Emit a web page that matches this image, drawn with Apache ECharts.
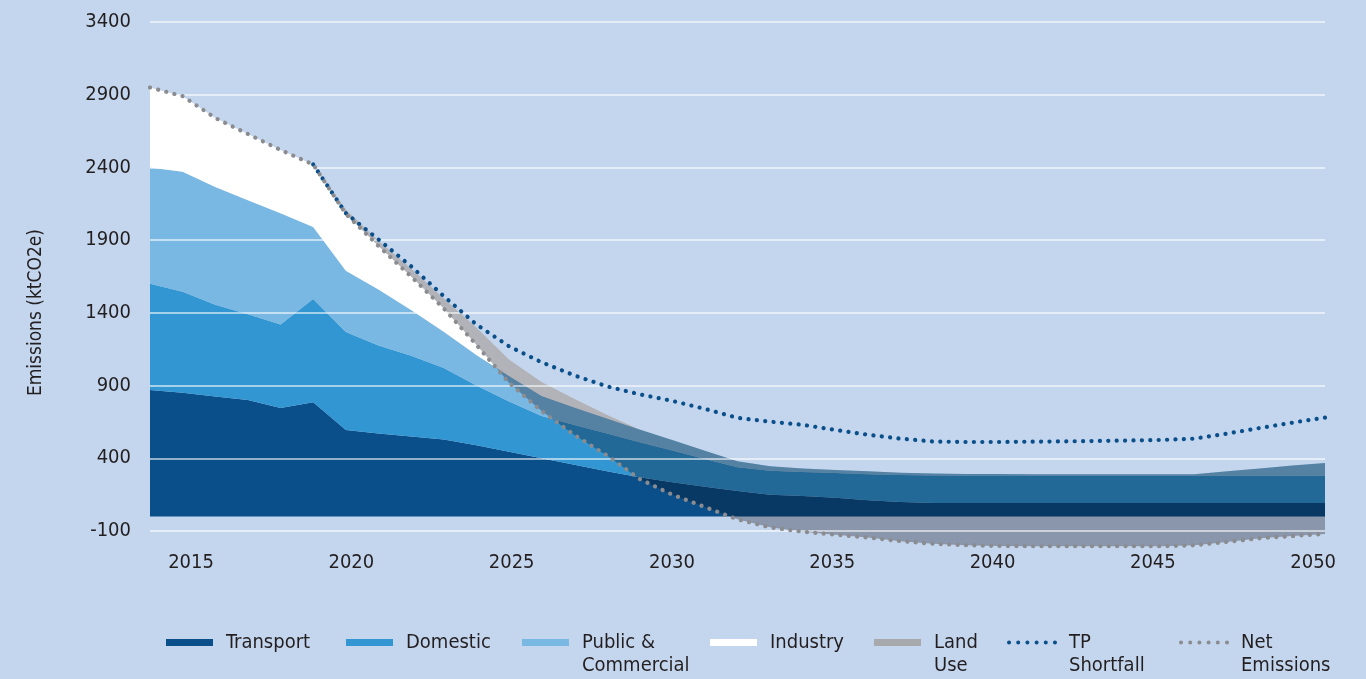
<!DOCTYPE html>
<html>
<head>
<meta charset="utf-8">
<title>Emissions</title>
<script src="https://cdn.jsdelivr.net/npm/echarts@6/dist/echarts.min.js"></script>
<style>
  html, body { margin: 0; padding: 0; background: #c4d6ee; }
  #chart { width: 1366px; height: 679px; }
</style>
</head>
<body>
<div id="chart"></div>
<script>
// 数据（ktCO2e）
const years = [2014, 2015, 2016, 2017, 2018, 2019, 2020, 2021, 2022, 2023, 2024, 2025, 2026, 2027, 2028, 2029, 2030, 2031, 2032, 2033, 2034, 2035, 2036, 2037, 2038, 2039, 2040, 2041, 2042, 2043, 2044, 2045, 2046, 2047, 2048, 2049, 2050]
const transport = [870, 850, 825, 800, 745, 785, 595, 570, 550, 530, 490, 445, 400, 355, 310, 270, 235, 205, 175, 150, 140, 128, 112, 100, 92, 92, 92, 92, 92, 92, 92, 92, 92, 92, 92, 92, 92]
const domestic = [730, 695, 630, 590, 575, 710, 673, 605, 555, 490, 410, 345, 290, 274, 260, 241, 219, 190, 163, 165, 165, 170, 178, 185, 190, 188, 188, 188, 188, 188, 188, 188, 188, 188, 188, 188, 188]
const publicCommercial = [800, 825, 810, 785, 765, 495, 422, 385, 315, 250, 210, 175, 138, 120, 103, 87, 72, 57, 42, 30, 25, 22, 20, 15, 13, 12, 12, 10, 10, 10, 10, 10, 10, 30, 50, 70, 88]
const industry = [550, 520, 475, 455, 435, 430, 420, 335, 285, 230, 190, 115, 97, 61, 27, 0, 0, 0, 0, 0, 0, 0, 0, 0, 0, 0, 0, 0, 0, 0, 0, 0, 0, 0, 0, 0, 0]
const netEmissions = [2950, 2890, 2740, 2630, 2520, 2420, 2080, 1860, 1650, 1430, 1180, 920, 725, 560, 420, 258, 150, 65, -20, -75, -105, -125, -145, -170, -188, -198, -203, -205, -205, -205, -205, -205, -198, -175, -150, -135, -120]
const tpShortfall = [null, null, null, null, null, 2420, 2085, 1905, 1720, 1515, 1320, 1170, 1060, 970, 895, 840, 795, 740, 678, 652, 630, 595, 562, 535, 515, 512, 512, 514, 516, 519, 522, 526, 535, 570, 608, 645, 680]
const xTickLabels = [2015, 2020, 2025, 2030, 2035, 2040, 2045, 2050]

const FONT = '"DejaVu Sans Condensed", "Liberation Sans", sans-serif'
const TEXT = '#231f20'

// 土地利用：从净排放到总排放之间的带
const gross = years.map((y, i) => transport[i] + domestic[i] + publicCommercial[i] + industry[i])
const landUseBand = gross.map((g, i) => g - netEmissions[i])

// 图例里的点线（六个小圆点）
const dotIcon = 'path://' + [2.1, 11.6, 21.1, 30.6, 40.1, 49.6].map(cx =>
  'M' + (cx - 2.1) + ',2.1a2.1,2.1 0 1,0 4.2,0a2.1,2.1 0 1,0 -4.2,0Z').join('')

function areaSeries(name, arr, color) {
  return {
    name: name,
    type: 'line',
    stack: 'sectors',
    symbol: 'none',
    data: arr,
    itemStyle: { color: color },
    lineStyle: { width: 0 },
    areaStyle: { color: color, opacity: 1 },
    z: 2
  }
}

function dottedSeries(name, arr, color) {
  return {
    name: name,
    type: 'line',
    symbol: 'none',
    clip: false,
    data: arr,
    itemStyle: { color: color },
    lineStyle: { color: color, width: 4.2, type: [0.1, 8.3], cap: 'round' },
    z: 5
  }
}

function legendAt(name, left, twoLine, icon) {
  const dotted = icon === dotIcon
  return {
    data: [{ name: name, icon: icon }],
    left: left,
    top: twoLine ? 608 : 631,
    padding: 0,
    itemWidth: dotted ? 50 : 47,
    itemHeight: dotted ? 4.2 : 7,
    selectedMode: false,
    itemStyle: { borderWidth: 0 },
    formatter: n => ({
      'Public & Commercial': '\nPublic &\nCommercial',
      'Land Use': '\nLand\nUse',
      'TP Shortfall': '\nTP\nShortfall',
      'Net Emissions': '\nNet\nEmissions'
    }[n] || n),
    textStyle: {
      fontFamily: FONT,
      fontSize: 20,
      color: TEXT,
      lineHeight: 23,
      padding: [0, 0, 0, dotted ? 7 : 8]
    }
  }
}

const myChart = echarts.init(document.getElementById('chart'), null, { renderer: 'canvas' })

const option = {
  backgroundColor: '#c4d6ee',
  animation: false,
  grid: { left: 150, right: 41, top: 22, bottom: 148 },
  xAxis: [{
    type: 'category',
    data: years,
    boundaryGap: false,
    show: false
  }, {
    type: 'value',
    min: 2013.72,
    max: 2050.37,
    position: 'bottom',
    axisLine: { show: false },
    axisTick: { show: false },
    splitLine: { show: false },
    axisLabel: {
      customValues: xTickLabels,
      formatter: v => String(Math.round(v)),
      fontFamily: FONT,
      fontSize: 20,
      color: TEXT,
      margin: 22
    }
  }],
  yAxis: {
    type: 'value',
    min: -100,
    max: 3400,
    interval: 500,
    z: 3,
    axisLine: { show: false },
    axisTick: { show: false },
    splitLine: { lineStyle: { color: 'rgba(255,255,255,0.75)', width: 1.5 } },
    axisLabel: {
      formatter: v => String(v),
      fontFamily: FONT,
      fontSize: 20,
      color: TEXT,
      margin: 19
    }
  },
  legend: [
    legendAt('Transport', 166, false, 'rect'),
    legendAt('Domestic', 346, false, 'rect'),
    legendAt('Public & Commercial', 522, true, 'rect'),
    legendAt('Industry', 710, false, 'rect'),
    legendAt('Land Use', 874, true, 'rect'),
    legendAt('TP Shortfall', 1007, true, dotIcon),
    legendAt('Net Emissions', 1179, true, dotIcon)
  ],
  graphic: [{
    type: 'text',
    left: 27,
    top: 229,
    rotation: Math.PI / 2,
    style: {
      text: 'Emissions (ktCO2e)',
      fontFamily: FONT,
      fontSize: 19,
      fill: TEXT
    }
  }],
  series: [
    areaSeries('Transport', transport, '#0b4f8a'),
    areaSeries('Domestic', domestic, '#3296d2'),
    areaSeries('Public & Commercial', publicCommercial, '#79b8e2'),
    areaSeries('Industry', industry, '#ffffff'),
    {
      name: 'landUseBase',
      type: 'line',
      stack: 'lu',
      stackStrategy: 'all',
      symbol: 'none',
      silent: true,
      clip: false,
      data: netEmissions,
      lineStyle: { width: 0, opacity: 0 },
      z: 2
    },
    {
      name: 'Land Use',
      type: 'line',
      stack: 'lu',
      stackStrategy: 'all',
      symbol: 'none',
      clip: false,
      data: landUseBand,
      itemStyle: { color: '#a8a9ad' },
      lineStyle: { width: 0 },
      areaStyle: { color: '#b2b3b8', opacity: 1 },
      blendMode: 'multiply',
      z: 2
    },
    dottedSeries('TP Shortfall', tpShortfall, '#0b4f8a'),
    dottedSeries('Net Emissions', netEmissions, '#8a8c90')
  ]
}

myChart.setOption(option)
</script>
</body>
</html>
